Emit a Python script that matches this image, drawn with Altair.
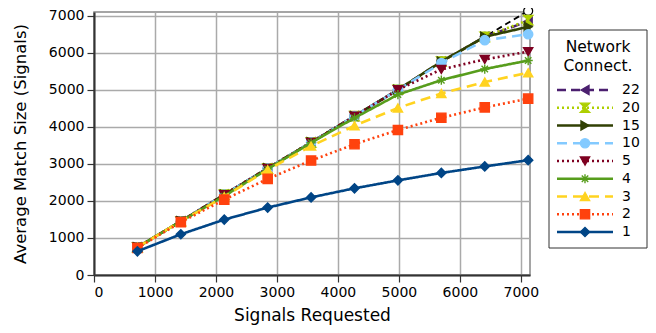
import altair as alt
import pandas as pd

# ---- data ----
signals = [712, 1424, 2136, 2848, 3560, 4272, 4984, 5696, 6408, 7120]
series_names = ["22", "20", "15", "10", "5", "4", "3", "2", "1"]
s22 = [750, 1450, 2170, 2880, 3580, 4290, 5000, 5760, 6430, 6850]
s20 = [750, 1450, 2170, 2880, 3580, 4290, 5000, 5760, 6430, 6880]
s15 = [750, 1450, 2170, 2880, 3580, 4290, 5000, 5760, 6430, 6700]
s10 = [750, 1450, 2170, 2880, 3580, 4290, 5000, 5720, 6340, 6500]
s5 = [750, 1450, 2170, 2880, 3580, 4290, 5000, 5550, 5820, 6030]
s4 = [750, 1450, 2130, 2860, 3570, 4240, 4870, 5260, 5560, 5790]
s3 = [750, 1450, 2110, 2840, 3480, 4030, 4510, 4900, 5210, 5460]
s2 = [730, 1425, 2035, 2595, 3090, 3530, 3915, 4245, 4525, 4760]
s1 = [640, 1100, 1495, 1820, 2095, 2340, 2555, 2755, 2930, 3100]
s_extra = [750, 1450, 2170, 2880, 3580, 4290, 5000, 5760, 6430, 7130]
tick_values = [0, 1000, 2000, 3000, 4000, 5000, 6000, 7000]

values = {"22": s22, "20": s20, "15": s15, "10": s10, "5": s5,
          "4": s4, "3": s3, "2": s2, "1": s1}

colors = ["#4b1f6f", "#aecf00", "#314004", "#83caff", "#7e0021",
          "#579d1c", "#ffd320", "#ff420e", "#004586"]
hourglass = "M-1,-1L1,-1L-1,1L1,1Z"
asterisk = "M-1,0L1,0M0,-1L0,1M-0.7,-0.7L0.7,0.7M-0.7,0.7L0.7,-0.7"
shapes = ["triangle-left", hourglass, "triangle-right", "circle", "triangle-down",
          asterisk, "triangle-up", "square", "diamond"]
dashes = [[9, 5], [2, 3], [1, 0], [10, 6], [2, 3], [1, 0], [10, 6], [2, 3], [1, 0]]

FONT = "DejaVu Sans"
W, H = 436, 263
TOP = 4

color_scale = alt.Scale(domain=series_names, range=colors)
shape_scale = alt.Scale(domain=series_names, range=shapes)
dash_scale = alt.Scale(domain=series_names, range=dashes)
xs = alt.Scale(domain=[0, 7150], nice=False)
ys = alt.Scale(domain=[0, 7100], nice=False)
x_axis = alt.Axis(values=tick_values, title="Signals Requested", format="d")
y_axis = alt.Axis(values=tick_values, title="Average Match Size (Signals)", format="d")
X = alt.X("x:Q", scale=xs, axis=x_axis)
Y = alt.Y("y:Q", scale=ys, axis=y_axis)

rows = []
for name in series_names:
    for x, y in zip(signals, values[name]):
        rows.append({"series": name, "x": x, "y": y})
df = pd.DataFrame(rows)
df_extra = pd.DataFrame({"x": signals, "y": s_extra})

main_layers = []
# extra black dashed series (not in the legend), drawn first
main_layers.append(
    alt.Chart(df_extra).mark_line(color="black", strokeWidth=1.8, strokeDash=[6, 4])
    .encode(x=X, y=Y)
)
main_layers.append(
    alt.Chart(df_extra).mark_point(shape="circle", fill="white", stroke="black",
                                   strokeWidth=1.2, size=80, opacity=1)
    .encode(x=X, y=Y)
)

for name in series_names:
    sub = df[df.series == name]
    main_layers.append(
        alt.Chart(sub).mark_line(strokeWidth=2.6)
        .encode(x=X, y=Y,
                color=alt.Color("series:N", scale=color_scale, legend=None),
                strokeDash=alt.StrokeDash("series:N", scale=dash_scale, legend=None))
    )
    main_layers.append(
        alt.Chart(sub).mark_point(filled=True, size=85, strokeWidth=1.4, opacity=1)
        .encode(x=X, y=Y,
                shape=alt.Shape("series:N", scale=shape_scale, legend=None),
                fill=alt.Fill("series:N", scale=color_scale, legend=None),
                stroke=alt.Stroke("series:N", scale=color_scale, legend=None))
    )

main = alt.layer(*main_layers)

# ---- legend drawn as a layer (pixel offsets relative to the plot origin) ----
off = 8 + TOP  # page y of the plot top
leg_df = pd.DataFrame({"series": series_names})
ly = alt.Y("series:N", scale=alt.Scale(type="point", domain=series_names,
                                       range=[90 - off, 232 - off], padding=0), axis=None)
one = pd.DataFrame({"a": [0]})

box = alt.Chart(one).mark_rect(fill="white", stroke="#333333", strokeWidth=1).encode(
    x=alt.value(455), x2=alt.value(553), y=alt.value(30 - off), y2=alt.value(248 - off))
t1 = alt.Chart(one).mark_text(font=FONT, fontSize=15.5, align="center", baseline="middle").encode(
    x=alt.value(504), y=alt.value(47 - off), text=alt.value("Network"))
t2 = alt.Chart(one).mark_text(font=FONT, fontSize=15.5, align="center", baseline="middle").encode(
    x=alt.value(504), y=alt.value(66 - off), text=alt.value("Connect."))
leg_lines = alt.Chart(leg_df).mark_rule(strokeWidth=2.6).encode(
    x=alt.value(463), x2=alt.value(519), y=ly,
    color=alt.Color("series:N", scale=color_scale, legend=None),
    strokeDash=alt.StrokeDash("series:N", scale=dash_scale, legend=None))
leg_pts = alt.Chart(leg_df).mark_point(filled=True, size=85, strokeWidth=1.4, opacity=1).encode(
    x=alt.value(491), y=ly,
    shape=alt.Shape("series:N", scale=shape_scale, legend=None),
    fill=alt.Fill("series:N", scale=color_scale, legend=None),
    stroke=alt.Stroke("series:N", scale=color_scale, legend=None))
leg_txt = alt.Chart(leg_df).mark_text(font=FONT, fontSize=14, align="left", baseline="middle").encode(
    x=alt.value(528), y=ly, text="series:N")

legend = alt.layer(box, t1, t2, leg_lines, leg_pts, leg_txt)

chart = alt.layer(main, legend).resolve_scale(y="independent").properties(
    width=W, height=H,
    autosize=alt.AutoSizeParams(type="none"),
    padding={"left": 86, "top": TOP, "right": 118, "bottom": 50},
).configure_view(
    stroke="#888888", strokeWidth=1.5
).configure_axis(
    labelFont=FONT, titleFont=FONT, labelFontSize=14, titleFontSize=16.5,
    titleFontWeight="normal", labelColor="black", titleColor="black",
    domainColor="#333333", domainWidth=2, tickColor="#333333", tickSize=7,
    tickWidth=1.2, gridColor="#aaaaaa", gridWidth=1.5, labelPadding=3,
).configure_axisY(titlePadding=20).configure_axisX(titlePadding=8, titleFontSize=17)

chart.save("out.html", embed_options={"renderer": "svg", "actions": False})
